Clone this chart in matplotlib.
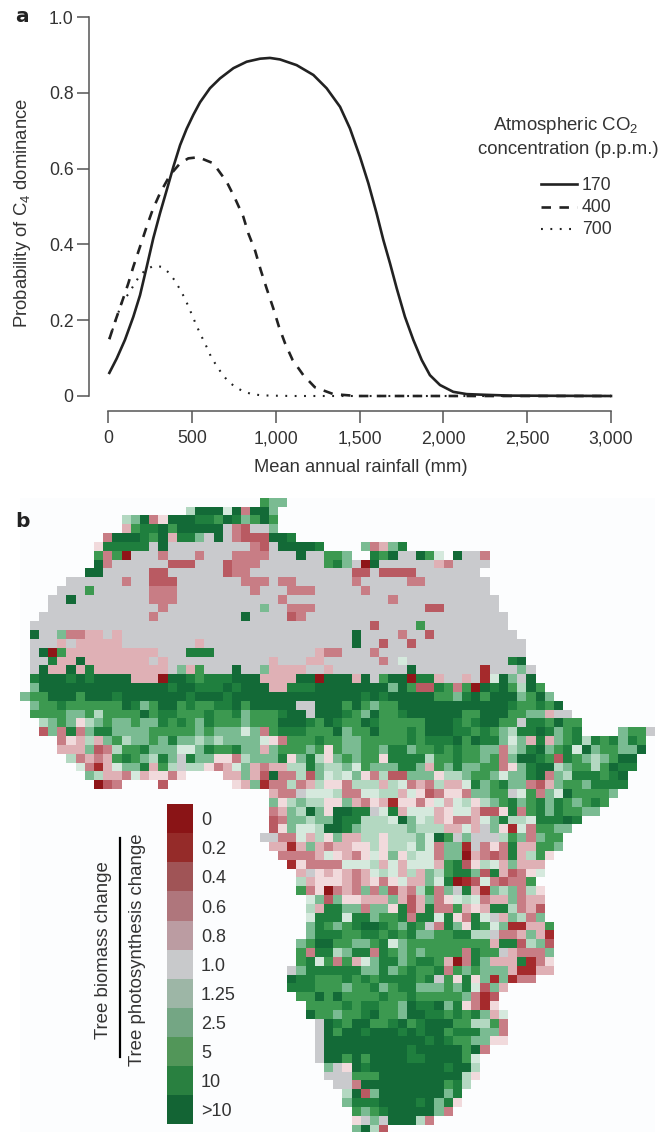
import numpy as np
import matplotlib
matplotlib.use("Agg")
import matplotlib.pyplot as plt
from matplotlib.colors import ListedColormap
from matplotlib.lines import Line2D

plt.rcParams['font.family'] = ['Liberation Sans', 'DejaVu Sans']
plt.rcParams['mathtext.fontset'] = 'custom'
plt.rcParams['mathtext.rm'] = 'Liberation Sans'
plt.rcParams['mathtext.default'] = 'regular'

W, H = 668, 1132

# panel a curves
rain_170 = [8, 52, 101, 151, 191, 231, 270, 310, 350, 390, 430, 469, 509, 549, 608, 668, 748, 827, 907, 966,
            1026, 1125, 1225, 1304, 1384, 1443, 1503, 1553, 1602, 1642, 1682, 1722, 1771, 1821, 1871, 1920,
            1980, 2059, 2139, 2258, 2400, 3000]
prob_170 = [.061, .099, .148, .209, .266, .341, .416, .482, .543, .605, .662, .705, .742, .775, .812, .838,
            .865, .882, .890, .892, .888, .873, .847, .812, .763, .706, .631, .561, .482, .412, .350, .284,
            .209, .148, .095, .055, .029, .011, .005, .003, .001, 0]
rain_400 = [8, 42, 91, 121, 151, 191, 227, 266, 310, 370, 430, 479, 539, 628, 708, 757, 807, 837, 877, 911,
            946, 986, 1020, 1056, 1101, 1165, 1234, 1344, 1483, 3000]
prob_400 = [.150, .196, .258, .297, .341, .394, .442, .491, .535, .583, .614, .627, .630, .614, .565, .522,
            .473, .429, .384, .332, .284, .231, .182, .139, .095, .055, .023, .005, 0, 0]
rain_700 = [8, 81, 121, 181, 221, 270, 320, 364, 396, 426, 453, 477, 499, 521, 543, 568, 592, 616, 646, 676,
            712, 755, 803, 857, 912, 966, 1100, 3000]
prob_700 = [.150, .245, .269, .312, .332, .343, .341, .325, .306, .284, .262, .239, .216, .193, .171, .148,
            .126, .102, .081, .061, .041, .025, .013, .005, .002, .001, 0, 0]

x_ticks = [0, 500, 1000, 1500, 2000, 2500, 3000]
x_labels = ['0', '500', '1,000', '1,500', '2,000', '2,500', '3,000']
y_ticks = [0, .2, .4, .6, .8, 1.0]
y_labels = ['0', '0.2', '0.4', '0.6', '0.8', '1.0']
co2_levels = ['170', '400', '700']

# colour key of panel b
key_labels = ['0', '0.2', '0.4', '0.6', '0.8', '1.0', '1.25', '2.5', '5', '10', '>10']
key_colors = ['#8a1416', '#952b29', '#a05456', '#af767c', '#bb9ca2', '#c8c9cb',
              '#9db6a6', '#74a684', '#529659', '#298040', '#136434']

# map cells, one code per cell: 0-4 loss, p pale pink, 5 no change, q pale green, 6-9 A gain
map_codes = '01234p5q6789A'
map_colors = ['#8f1518', '#a52a2c', '#b95a62', '#c87d85', '#dfb0b5', '#f1dadc', '#c9cacd',
              '#d5e9dd', '#b3d8c1', '#7abb92', '#3c9950', '#1f7f3e', '#136a37']
map_rows = [
    (26, "877"),
    (18, "6 AAA q A 3 AA 7"),
    (11, "6 7 A 3 p AAA 99 8 A 9 7 8 A 8"),
    (11, "4 8 99 A 8 AAAAA 5 3 2 55 7"),
    (9, "3 AAA 9 8 A 4 99 7 5 A 5 3222 AA 9"),
    (8, "p 99999 5 A 555555555 3 2 5 AAAA 9 .... 7 3 4 7 9"),
    (8, "8 3 8 0 555 3 555 3 555 3333 555 A 55 8 8 7 .. 9 8 A 55 A 8 q . A 55 3"),
    (8, "A 3 555555 222 555 2 333 5555555 8 9 7 5 0 A 555555 4 3 5555"),
    (7, "AA 55555 22 555555 2 33 55555555555 22 5 2222 5555555"),
    (5, "555555 3 55 222 5555555 333 5 33 555555 3 55555 33 5555555"),
    (4, "555 8 555555 333 55555555 3 555 333 55555 3 5555555555555"),
    (3, "55 A 55555555 333 55555555555 3 55555555555 3 55555555555"),
    (3, "555555555555 3 5555555555 7 55 333 555555555555 22 555555"),
    (2, "555555555555 3 555555555 A 5555 2 3 5555555555555555555555"),
    (1, "5555555555 5555555555 5555555555 5555555 2 5555 8 555555555"),
    (1, "A 55 7 3 3 4 4 5 4 5555555555 5555555555 55555 A 5555 3 55 2 555555555"),
    (1, "555 4 5 44444 55555555 4 5555555555555555 A 55 2 55 2 555555555555"),
    (1, "5 A 0 8 4444444444 555 999 55555555555 4 33 555 3 5555555555555555"),
    (1, "55 9 44 A 44 4444 4 5 4 55555555555 4 555 44 555555 3 5 q 55555555555 9 A"),
    (1, "5 A 44 A 4 9 44444444 5 7 4 8 555 A 55 7 44 44 55 4 55555555 A 5555555 1 555 7 5"),
    (1, "9 AAA 9 A 9 AAAA 444 0 AA 9 8 999 AAA 4444 AA 0 AAA 4 A 5 8 AA 0 99 4 55 4 5 1 q A 7 5 A"),
    (1, "7 AAAAAAAAAAAAAA 9 AA 999 A 9 AAA 44 999 AAAAAAAA 7 A 8 22 9 8 3 8 0 A 9 A 8 6 A 8"),
    (0, "7 88 AAA 8 AAA 9 AAAAAAA 9 AAA 9 AAAAAAAAAAAAAA 9 A 9 AAAAA 88 7 9 A 8 AAA 7 8 A 7"),
    (1, "7 88 9 888888 A 9 7 8 AA 8 9 88 99 A 8 AAAAA 55 AAA 8 A 8 7 88 AAAAAAAAAAAA 9 88 9 8 A"),
    (1, "8888 7 7 8 6 888 8 A 8 99 88 8 9 88 9 7 888 9 AA 5 AAA 9 8 7 A 88 9 AAAAAA 88 AAA 88 77 4 55"),
    (2, "6 7 8 7 p 6 7 877 8 7 7 9 8 9 8 7 9 888 7 888 AAA 9 8 A 9 88 A 9 888 88 AAA 9 8 9 AA 88 5 99 8 A 88"),
    (2, "2 7 3 9 3 7 99 77 7 7 88888 7 8 7 7 7 q 7 3 8 999 888 A 7 8 8 A 888 9 8 AAA 9 9 8 9 8 7 6 99 A 9 7 8 9 .... 7 88 5"),
    (4, "3 p 4 6 4 7 8 6 77 8 7 9 77 6 7 6 7 777 q p 3 888 9 8 8 7 7 88888 9 8 999 A 8 A 99 7 q 7 4 9 4 7 8 9 6 9 8 9 7 9 8"),
    (4, "44 4 7 2 3 6 8 8 9 7 77 qq 7 9 88 9 77 4 7 888 7 8 p 8 7 7 88 7 99 7 88 9 8 9 88 77 3 6 7 9 A 7 8 9 q A 7 88 7 7 A"),
    (5, "6 3 4 3 4 8 9 8 7 6 9 7 5 9 7 7 pp 3 6 77 7 9 p 7 9 6 p 7 8 7 8 8 p 9 999 6 88 9 88 7 8 3 7 A A 9 8 2 9 8 7 6 7 8 AA"),
    (6, "q 3 1 4 q 77 9 4 8 6 5 66 p 3 4 q 7 4 3 44 66 9 7 6 6 7 q 8 7 77 9 9 7 4 8 7 9 77 88 3 p 7 9 AA 6 7 88 6 8 A 99"),
    (7, "7 6 44 3 q 4 pp 3 p .... 44 7 4 2 A 3 3 6 2 7 q 6 q 7 p 3 6 22 77 7 p 66 7 88 7 q 77 9 A 3 7 6 999 8 9 A"),
    (8, "0 2 3 .... 2 ....... p 4 7 1 33 6 3 4 6 pp 3 666 4 6 q 3 4 3 6 44 q 9 7 8 9 77 3 2 4 7 88 7 9999"),
    (27, "4 33 5 qqq 6 33 qq 66 4 q p 2 3 pp 3 7 7 8 8 5 q 8 3 7 q A 88 88 7"),
    (27, "7 p 6 7 66 pp 7 4 3 p 4 1 pp 3 p q 4 q 6 p 6 7 8 9 7 8 9 7 9 8 7 8 9 8"),
    (27, "3 4 7 6 A 7 p AA 99 5 q 9 4 qqq 4 p q q 4 22 p 9 3 8 9 7 9 8 8 7 7"),
    (27, "2 3 7 7 6 7 7 A 99 666 q A 7 q 6 4 p 33 4 q 7 9 66 q 99 9 A 9"),
    (27, "2 p 7 q q 6 A A 9 7 666 66 7 6 66 44 q 4 5 7 p 1 q 3 88 77"),
    (26, "55 3 3 q 4 6 p 7 44 66 p 66 6 7 q A 8 5 7 555 6 8 7 3 7 88"),
    (27, "4 4 1 4 7 4 3 4 4 pp 6 p 66 q 7 q 3 77 1 5 3 p 3 9 44 88 7"),
    (28, "3333 4 q p 4 3 p q p 7 p 6 qq 3 77 0 4 3 2 3 9 4 6 8 p"),
    (29, "1 p 3 33 3 qq q 6 4 q 4 qqq 4 8 9 2 p 6 q 4 7 4 44"),
    (30, "4 5 p 4 p 4 3 4 q 6 q 4 6 4 7 6 8 99 7 2 9 4 2 3 p q"),
    (30, "6 4 ppp 4 3 4 p 3 p q 4 4 7 q 9 0 1 2 q 3 2 33 8"),
    (30, "8 3 p 0 3 4 3 7 3 7 2 4 3 6 8 3 7 5 9 4 1 7 6 7 3 6 p"),
    (31, "q 7 2 7 pp 4 4 4 7 4 2 4 7 3 p q 6 q 3 44 7 3 4 4"),
    (31, "6 4 99 7 7 3 77 p 9 2 4 9 33 8 4 p 4 99 6 3 4 2"),
    (31, "q 999 q 99 7 88 9 3 99 q 9 p 3 9 q 5 4 7 6 3 7"),
    (31, "7 9 8 7 8 9 AA 9 8 7 9 8 5 3 9 7 p 9 8 q 7 11 44 8"),
    (31, "7 999 88 99 8 9 8 9 7 7 88 99 66 5 33 4 7 4 1"),
    (30, "7 8 AA 88 7 7 8 9 q 7 88 8888 88 8 4 99 2 6 7 2"),
    (30, "8 3 99 6 7 99 3 9 8 7 8 7 8888 3 9 88 5 4 333 7"),
    (30, "8 9 q 8 3 8 4 q 7 99 7 8 99 8 4 0 3 9 7 44 4 9 1 3 p"),
    (29, "5 7 9 999 9 9 77 9 7 8 9 88 9 3 8 7 8 7 7 7 4 11 44"),
    (29, "A 99 888 9 8 9 8 999 9 8 9 5 8 p 9 p 7 1 7 1 3 3"),
    (29, "99 9 888 7 88 9 7 8 99 77 7 8 7 9 q 2 7 4"),
    (30, "88 A 8 A 8888 9 88 9 88888 7 3 1 2"),
    (31, "8 88 8 9 8 99 8 8 7 A 99 A 7 9 p 3 1 p"),
    (31, "A 88 7 88 9 A 88 7 AA 99 8 9 8 9 7 4 q"),
    (32, "5 A 9 8 AA 88 9 A 8 9 AAA 88 66 8 3"),
    (32, "5 A 8 AA 9 AAA 9 A 9 AA 8 99 9 77 3"),
    (32, "5 AAAAAAAAAAA 9 A 9 88 77 pp"),
    (32, "5 AAAAAAAAA 9 AAAAA 8 A 3"),
    (32, "5 AA 8 A 8 AAAA 99 AAAA 8 q"),
    (33, "7 5 p A 9 AAAAAAAA 9 AA 6"),
    (33, "555 888 AAAAAAAAA 6 p"),
    (34, "55 3 AAAAAAAAA 8 9 6"),
    (35, "6 A 2 7 AAAAAAA 7 9"),
    (35, "7 999 AAAA 9 A 7 9 p"),
    (36, "8 7 8 9 AAAAA 7 3"),
    (36, "p 5 7 5 AAA 6 3"),
    (36, "7 A 6 2"),
]


def box(x0, y0, x1, y1):
    # pixel box (y from the top) to figure fractions
    return [x0 / W, 1 - y1 / H, (x1 - x0) / W, (y1 - y0) / H]


def fx(x):
    return x / W


def fy(y):
    return 1 - y / H


fig = plt.figure(figsize=(W / 100, H / 100), dpi=100, facecolor='white')

dash_style = (0, (3.6, 3.2))
dot_style = (0, (0.9, 3.6))

# panel a
ax = fig.add_axes(box(108, 17, 611, 396))
ax.plot(rain_700, prob_700, color='#222222', lw=1.5, ls=dot_style, clip_on=False)
ax.plot(rain_400, prob_400, color='#222222', lw=1.9, ls=dash_style, clip_on=False)
ax.plot(rain_170, prob_170, color='#222222', lw=1.9, clip_on=False)
ax.set_xlim(0, 3000)
ax.set_ylim(0, 1)
ax.patch.set_visible(False)
ax.set_xticks(x_ticks, x_labels)
ax.set_yticks(y_ticks, y_labels)
ax.spines['top'].set_visible(False)
ax.spines['right'].set_visible(False)
ax.spines['left'].set_position(('outward', 13.7))
ax.spines['bottom'].set_position(('outward', 10.6))
for s in ['left', 'bottom']:
    ax.spines[s].set_color('#555555')
    ax.spines[s].set_linewidth(1.1)
ax.tick_params(axis='both', length=8.6, width=1.1, color='#555555', labelcolor='#333333', labelsize=12.7)
ax.tick_params(axis='x', pad=5.5)
ax.tick_params(axis='y', pad=2.4)

fig.text(fx(361), fy(467), 'Mean annual rainfall (mm)', ha='center', va='center', fontsize=13.2, color='#333333')
fig.text(fx(23), fy(213), 'Probability of C$_4$ dominance', rotation=90, ha='center', va='center',
         fontsize=13.3, color='#333333')
fig.text(fx(15), fy(17), 'a', fontsize=14.5, fontweight='bold', family='DejaVu Sans', va='center', color='#222222')
fig.text(fx(15), fy(522), 'b', fontsize=14.5, fontweight='bold', family='DejaVu Sans', va='center', color='#222222')

# legend of panel a
fig.text(fx(566), fy(125), 'Atmospheric CO$_2$', ha='center', va='center', fontsize=13.4, color='#333333')
fig.text(fx(568), fy(149), 'concentration (p.p.m.)', ha='center', va='center', fontsize=13.4, color='#333333')
leg_styles = [('-', 1.9), (dash_style, 1.9), (dot_style, 1.5)]
for lab, (ls, lw), yy in zip(co2_levels, leg_styles, [184, 206.5, 229]):
    fig.add_artist(Line2D([fx(541), fx(577)], [fy(yy), fy(yy)], color='#222222', lw=lw, ls=ls))
    fig.text(fx(582), fy(yy + 1), lab, va='center', fontsize=12.7, color='#333333')

# panel b map
n_rows, n_cols = len(map_rows), 69
grid = np.full((n_rows, n_cols), np.nan)
for r, (start, cells) in enumerate(map_rows):
    cells = cells.replace(' ', '')
    for i, ch in enumerate(cells):
        if ch != '.':
            grid[r, start + i] = map_codes.index(ch)

cell_w, cell_h = 9.2, 8.83
ax_map = fig.add_axes(box(20.3, 497.7, 20.3 + n_cols * cell_w, 497.7 + n_rows * cell_h))
ax_map.pcolormesh(np.arange(n_cols + 1), np.arange(n_rows + 1), np.ma.masked_invalid(grid),
                  cmap=ListedColormap(map_colors), vmin=-0.5, vmax=len(map_codes) - 0.5)
ax_map.set_xlim(0, n_cols)
ax_map.set_ylim(n_rows, 0)
ax_map.set_facecolor('#fcfdfe')
ax_map.set_xticks([])
ax_map.set_yticks([])
for s in ax_map.spines.values():
    s.set_visible(False)

# colour key
ax_key = fig.add_axes(box(166.7, 804.3, 193.3, 1124))
key_vals = np.arange(len(key_labels)).reshape(-1, 1)
ax_key.pcolormesh(np.arange(2), np.arange(len(key_labels) + 1), key_vals, cmap=ListedColormap(key_colors))
ax_key.set_ylim(len(key_labels), 0)
ax_key.set_xticks([])
ax_key.yaxis.tick_right()
ax_key.set_yticks(np.arange(len(key_labels)) + 0.5, key_labels)
ax_key.tick_params(axis='y', length=0, pad=5.5, labelsize=13, labelcolor='#333333')
for s in ax_key.spines.values():
    s.set_visible(False)

fig.text(fx(103), fy(950), 'Tree biomass change', rotation=90, ha='center', va='center', fontsize=13.4, color='#333333')
fig.text(fx(138), fy(950), 'Tree photosynthesis change', rotation=90, ha='center', va='center', fontsize=13.4, color='#333333')
fig.add_artist(Line2D([fx(120), fx(120)], [fy(838), fy(1057)], color='black', lw=1.6))

fig.savefig('out.png', dpi=100)
